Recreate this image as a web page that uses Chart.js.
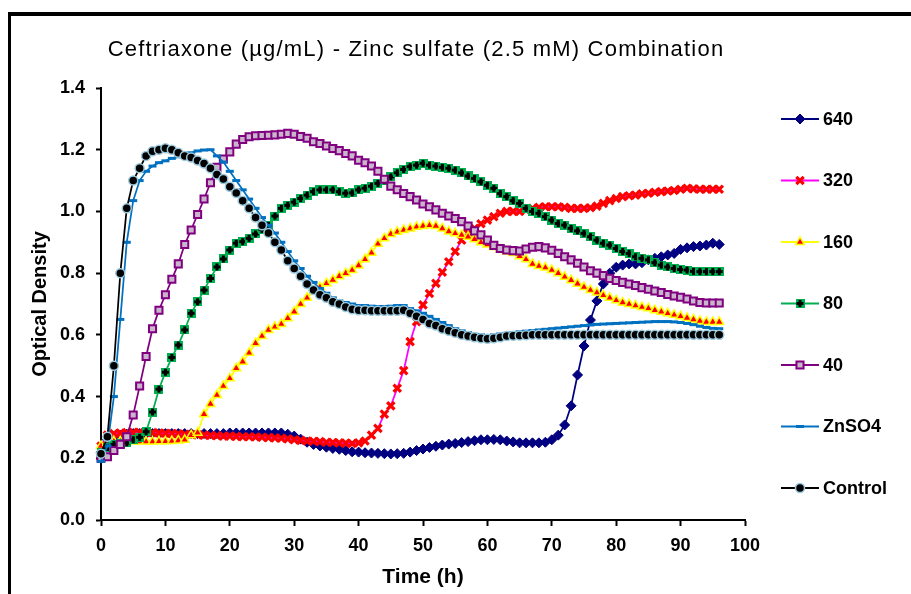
<!DOCTYPE html>
<html><head><meta charset="utf-8">
<script src="https://cdn.jsdelivr.net/npm/chart.js@4.4.1/dist/chart.umd.min.js"></script>
<style>html,body{margin:0;padding:0;background:#fff}canvas{display:block}</style>
</head><body>
<canvas id="c" width="911" height="594"></canvas>
<script>
const chartTitle = 'Ceftriaxone (\u00b5g/mL) - Zinc sulfate (2.5 mM) Combination';
const xTitle = 'Time (h)';
const yTitle = 'Optical Density';
const seriesNames = ['640', '320', '160', '80', '40', 'ZnSO4', 'Control'];
const xTickLabels = ['0','10','20','30','40','50','60','70','80','90','100'];
const yTickLabels = ['0.0','0.2','0.4','0.6','0.8','1.0','1.2','1.4'];

const hours = [0,1,2,3,4,5,6,7,8,9,10,11,12,13,14,15,16,17,18,19,20,21,22,23,24,25,26,27,28,29,30,31,32,33,34,35,36,37,38,39,40,41,42,43,44,45,46,47,48,49,50,51,52,53,54,55,56,57,58,59,60,61,62,63,64,65,66,67,68,69,70,71,72,73,74,75,76,77,78,79,80,81,82,83,84,85,86,87,88,89,90,91,92,93,94,95,96];

const s640 = [0.22,0.26,0.27,0.275,0.278,0.28,0.28,0.28,0.28,0.28,0.28,0.28,0.28,0.28,0.28,0.28,0.28,0.28,0.28,0.28,0.282,0.282,0.282,0.282,0.282,0.282,0.282,0.282,0.282,0.278,0.272,
0.262,0.252,0.245,0.24,0.236,0.232,0.229,0.225,0.221,0.22,0.218,0.217,0.216,0.215,0.214,0.215,0.216,0.22,0.225,0.23,
0.235,0.239,0.243,0.246,0.248,0.251,0.254,0.257,0.26,0.26,0.261,0.26,0.256,0.253,0.25,0.25,0.25,0.25,0.252,0.26,
0.275,0.308,0.37,0.47,0.564,0.648,0.71,0.765,0.80,0.819,0.826,0.83,0.83,0.834,0.843,0.848,0.853,0.859,0.864,0.877,
0.882,0.886,0.888,0.891,0.897,0.893];

const s320 = [0.24,0.275,0.28,0.282,0.283,0.284,0.284,0.284,0.283,0.282,0.281,0.28,0.279,0.278,0.277,0.276,0.275,0.274,0.273,0.272,0.272,
0.271,0.27,0.27,0.269,0.268,0.267,0.266,0.265,0.263,0.26,0.258,0.256,0.255,0.254,0.252,0.251,0.25,0.249,0.248,0.25,
0.256,0.275,0.297,0.343,0.37,0.427,0.484,0.578,0.643,0.697,0.734,0.767,0.803,0.837,0.87,0.907,0.929,0.945,0.96,0.972,
0.983,0.994,1.00,1.00,1.00,1.005,1.01,1.013,1.015,1.015,1.015,1.013,1.01,1.01,1.01,1.012,1.017,1.026,1.035,1.042,
1.048,1.051,1.053,1.057,1.059,1.062,1.064,1.066,1.068,1.072,1.075,1.073,1.072,1.072,1.072,1.072];

const s160 = [0.24,0.25,0.255,0.255,0.255,0.255,0.254,0.254,0.254,0.255,0.255,0.256,0.258,0.26,0.275,0.283,0.343,0.376,0.405,0.434,0.459,
0.492,0.513,0.542,0.573,0.596,0.616,0.626,0.635,0.654,0.675,0.70,0.72,0.74,0.755,0.767,0.778,0.79,0.80,0.81,0.825,
0.845,0.866,0.895,0.913,0.927,0.934,0.94,0.945,0.95,0.953,0.955,0.953,0.945,0.935,0.929,0.924,0.918,0.91,0.90,0.893,
0.885,0.877,0.87,0.865,0.855,0.845,0.83,0.823,0.818,0.81,0.80,0.788,0.777,0.766,0.755,0.745,0.737,0.728,0.72,0.712,
0.705,0.70,0.695,0.69,0.686,0.68,0.675,0.67,0.665,0.66,0.655,0.65,0.645,0.642,0.642,0.642];

const s80 = [0.22,0.235,0.245,0.248,0.25,0.26,0.268,0.286,0.35,0.424,0.479,0.527,0.567,0.616,0.67,0.707,0.745,0.783,0.82,0.846,0.875,
0.897,0.902,0.913,0.927,0.942,0.955,0.985,1.01,1.02,1.03,1.042,1.053,1.064,1.07,1.07,1.07,1.064,1.059,1.06,1.07,
1.075,1.082,1.091,1.10,1.112,1.125,1.136,1.145,1.15,1.156,1.15,1.147,1.143,1.14,1.134,1.125,1.115,1.107,1.096,1.085,
1.075,1.058,1.048,1.035,1.026,1.01,1.00,0.994,0.983,0.972,0.961,0.956,0.945,0.937,0.929,0.918,0.907,0.897,0.891,0.88,
0.87,0.864,0.853,0.848,0.843,0.834,0.826,0.82,0.815,0.812,0.81,0.806,0.805,0.805,0.805,0.805];

const s40 = [0.20,0.205,0.225,0.245,0.27,0.34,0.434,0.53,0.62,0.68,0.73,0.78,0.83,0.893,0.94,0.99,1.04,1.093,1.143,1.17,1.193,
1.218,1.233,1.242,1.245,1.246,1.247,1.248,1.25,1.253,1.25,1.243,1.237,1.226,1.22,1.212,1.204,1.197,1.188,1.18,1.166,
1.158,1.147,1.13,1.104,1.082,1.07,1.058,1.048,1.037,1.024,1.015,1.005,0.994,0.985,0.977,0.967,0.953,0.937,0.924,0.907,
0.89,0.88,0.875,0.873,0.872,0.878,0.884,0.886,0.882,0.874,0.864,0.853,0.843,0.832,0.82,0.808,0.80,0.792,0.783,0.776,
0.77,0.765,0.76,0.753,0.748,0.742,0.737,0.731,0.726,0.722,0.716,0.71,0.705,0.703,0.703,0.703];

const sZn = [0.19,0.24,0.40,0.65,0.90,1.035,1.10,1.13,1.147,1.158,1.164,1.172,1.177,1.186,1.19,1.196,1.199,1.20,1.18,1.16,1.13,
1.10,1.07,1.04,1.01,0.98,0.955,0.93,0.90,0.87,0.84,0.815,0.79,0.77,0.75,0.735,0.72,0.71,0.705,0.70,0.695,
0.695,0.693,0.692,0.692,0.693,0.695,0.695,0.685,0.678,0.67,0.66,0.65,0.64,0.63,0.62,0.613,0.607,0.602,0.60,0.598,
0.60,0.603,0.605,0.607,0.61,0.612,0.614,0.616,0.618,0.62,0.622,0.624,0.626,0.628,0.63,0.632,0.634,0.635,0.636,0.637,
0.638,0.639,0.64,0.641,0.642,0.643,0.643,0.643,0.642,0.64,0.637,0.633,0.628,0.624,0.621,0.62];

const sControl = [0.215,0.27,0.50,0.80,1.01,1.10,1.14,1.18,1.195,1.20,1.205,1.20,1.19,1.18,1.175,1.165,1.155,1.14,1.12,1.105,1.08,
1.06,1.035,1.01,0.98,0.955,0.93,0.90,0.875,0.84,0.815,0.79,0.765,0.745,0.73,0.72,0.707,0.70,0.69,0.683,0.68,
0.68,0.678,0.678,0.678,0.678,0.678,0.68,0.67,0.66,0.65,0.637,0.63,0.62,0.613,0.607,0.60,0.596,0.592,0.589,0.587,
0.589,0.592,0.596,0.597,0.598,0.599,0.60,0.60,0.60,0.60,0.60,0.60,0.60,0.60,0.60,0.60,0.60,0.60,0.60,0.60,
0.60,0.60,0.60,0.60,0.60,0.60,0.60,0.60,0.60,0.60,0.60,0.60,0.60,0.60,0.60,0.60];

const FONT = "'Liberation Sans', Arial, Helvetica, sans-serif";

function plusMarker() {
  const c = document.createElement('canvas');
  c.width = 9; c.height = 9;
  const g = c.getContext('2d');
  g.fillStyle = '#00B050';
  g.fillRect(0, 0, 9, 9);
  g.fillStyle = '#000000';
  g.fillRect(3, 1, 3, 7);
  g.fillRect(1, 3, 7, 3);
  return c;
}
const greenPlus = plusMarker();

function pairs(ys) { return hours.map((h, i) => ({x: h, y: ys[i]})); }

const styles = [
  {line:'#000080', ps:'rectRot', bg:'#000080', bc:'#000080', bw:1, r:5},
  {line:'#FF00FF', ps:'crossRot', bg:'#FF0000', bc:'#FF0000', bw:3.2, r:5.2},
  {line:'#FFFF00', ps:'triangle', bg:'#FF0000', bc:'#FFFF00', bw:1.5, r:5},
  {line:'#00B050', ps:greenPlus, bg:'#00B050', bc:'#00B050', bw:0, r:5},
  {line:'#800080', ps:'rect', bg:'#C9B6CC', bc:'#800080', bw:2, r:5},
  {line:'#0070C0', ps:'line', bg:'#0070C0', bc:'#0070C0', bw:3, r:4},
  {line:'#000000', ps:'circle', bg:'#000000', bc:'#9CC8DC', bw:1.5, r:4.5}
];
const allSeries = [s640, s320, s160, s80, s40, sZn, sControl];

const datasets = allSeries.map((s, i) => ({
  label: seriesNames[i],
  data: pairs(s),
  borderColor: styles[i].line,
  backgroundColor: styles[i].bg,
  borderWidth: 1.75,
  pointStyle: styles[i].ps,
  pointBackgroundColor: styles[i].bg,
  pointBorderColor: styles[i].bc,
  pointBorderWidth: styles[i].bw,
  pointRadius: styles[i].r,
  pointHoverRadius: styles[i].r,
  tension: 0,
  clip: false,
  order: allSeries.length - 1 - i
}));

const framePlugin = {
  id: 'frame',
  beforeDraw(chart) {
    const ctx = chart.ctx;
    ctx.save();
    ctx.fillStyle = '#ffffff';
    ctx.fillRect(0, 0, chart.width, chart.height);
    ctx.fillStyle = '#000000';
    ctx.fillRect(8, 12, chart.width - 8, 4);
    ctx.fillRect(8, 12, 3, chart.height - 12);
    ctx.fillStyle = '#000000';
    ctx.font = 'normal 22px ' + FONT;
    if ('letterSpacing' in ctx) ctx.letterSpacing = '1.2px';
    ctx.textAlign = 'center';
    ctx.textBaseline = 'middle';
    ctx.fillText(chartTitle, 416, 50);
    if ('letterSpacing' in ctx) ctx.letterSpacing = '0px';
    ctx.restore();
  },
  afterDraw(chart) {
    const ctx = chart.ctx;
    ctx.save();
    chart.data.datasets.forEach((ds, i) => {
      const y = 119 + i * 61.5;
      ctx.strokeStyle = ds.borderColor;
      ctx.lineWidth = 2;
      ctx.beginPath();
      ctx.moveTo(781, y);
      ctx.lineTo(819, y);
      ctx.stroke();
      ctx.fillStyle = ds.pointBackgroundColor;
      ctx.strokeStyle = ds.pointBorderColor;
      ctx.lineWidth = ds.pointBorderWidth;
      Chart.helpers.drawPoint(ctx, {pointStyle: ds.pointStyle, radius: ds.pointRadius, rotation: 0, borderWidth: ds.pointBorderWidth}, 800, y);
      ctx.fillStyle = '#000000';
      ctx.font = 'bold 18px ' + FONT;
      ctx.textAlign = 'left';
      ctx.textBaseline = 'middle';
      ctx.fillText(ds.label, 823, y + 1);
    });
    ctx.restore();
  }
};

new Chart(document.getElementById('c'), {
  type: 'line',
  data: { datasets },
  options: {
    responsive: false,
    animation: false,
    devicePixelRatio: 1,
    layout: { padding: { left: 0, right: 166, top: 88, bottom: 0 } },
    plugins: { legend: { display: false }, title: { display: false }, tooltip: { enabled: false } },
    scales: {
      x: {
        type: 'linear', min: 0, max: 100,
        afterFit(s) { s.height = 74; },
        border: { display: true, color: '#000000', width: 2 },
        grid: { display: true, drawOnChartArea: false, drawTicks: true, tickLength: 6, tickColor: '#000000', tickWidth: 2 },
        ticks: { stepSize: 10, color: '#000000', padding: 9, maxRotation: 0, font: { family: FONT, size: 18, weight: 'bold' },
                 callback: (v, i) => xTickLabels[i] },
        title: { display: true, text: xTitle, color: '#000000', font: { family: FONT, size: 21, weight: 'bold' }, padding: { top: 4, bottom: 4 } }
      },
      y: {
        type: 'linear', min: 0, max: 1.4,
        afterFit(s) { s.width = 101; },
        border: { display: true, color: '#000000', width: 2 },
        grid: { display: true, drawOnChartArea: false, drawTicks: true, tickLength: 5, tickColor: '#000000', tickWidth: 2 },
        ticks: { stepSize: 0.2, color: '#000000', padding: 11, font: { family: FONT, size: 18, weight: 'bold' },
                 callback: (v, i) => yTickLabels[i] },
        title: { display: true, text: yTitle, color: '#000000', font: { family: FONT, size: 20, weight: 'bold' }, padding: { top: 28, bottom: 0 } }
      }
    }
  },
  plugins: [framePlugin]
});
</script>
</body></html>
